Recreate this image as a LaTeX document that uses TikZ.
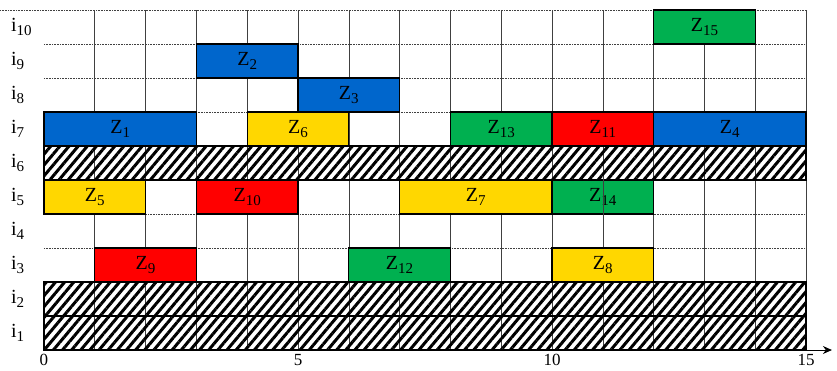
\documentclass[tikz,border=0pt]{standalone}
\usepackage{fontspec}
\setmainfont{Liberation Serif}
\usetikzlibrary{patterns.meta,arrows.meta}
\definecolor{zblue}{HTML}{0066CC}
\definecolor{zyellow}{HTML}{FFD700}
\definecolor{zred}{HTML}{FF0000}
\definecolor{zgreen}{HTML}{00B050}
\newcommand\zl[1]{Z\raisebox{-0.4ex}{\fontsize{15}{15}\selectfont #1}}
\newcommand\il[1]{i\raisebox{-0.4ex}{\fontsize{15}{15}\selectfont #1}}
\newcommand\zbox[6]{\node[zbar, fill=#5, minimum width={(#3-#2)*50.8pt}] (#1) at ({(#2+#3)/2},{#4-0.5}) {#6};}
\begin{document}
\begin{tikzpicture}[x=50.8pt,y=34pt,
  gridv/.style={draw=black!75, line width=0.6pt},
  gridh/.style={draw=black!75, line width=0.6pt, densely dotted},
  zbar/.style={draw=black, line width=1.3pt, minimum height=34pt, inner sep=0pt, font=\fontsize{20}{20}\selectfont},
  hatch/.style={draw=black, line width=1.3pt, minimum height=34pt, minimum width=762pt, inner sep=0pt,
    pattern={Lines[angle=50, distance=7pt, line width=3pt]}},
  lab/.style={font=\fontsize{20}{20}\selectfont, anchor=west, inner sep=0pt},
  tick/.style={font=\fontsize{17}{17}\selectfont, inner sep=0pt, anchor=base}]
\useasboundingbox (-0.866,-0.588) rectangle (15.61,10.294);
% grid
\foreach \x in {1,...,15} \draw[gridv] (\x,0) -- (\x,10);
\foreach \y in {1,...,9} \draw[gridh] (0,\y) -- (15,\y);
\draw[gridh] (-0.866,10) -- (15,10);
% hatched rows
\node[hatch] (h6) at (7.5,5.5) {};
\node[hatch] (h2) at (7.5,1.5) {};
\node[hatch] (h1) at (7.5,0.5) {};
% bars
\zbox{z15}{12}{14}{10}{zgreen}{\zl{15}}
\zbox{z2}{3}{5}{9}{zblue}{\zl{2}}
\zbox{z3}{5}{7}{8}{zblue}{\zl{3}}
\zbox{z1}{0}{3}{7}{zblue}{\zl{1}}
\zbox{z6}{4}{6}{7}{zyellow}{\zl{6}}
\zbox{z13}{8}{10}{7}{zgreen}{\zl{13}}
\zbox{z11}{10}{12}{7}{zred}{\zl{11}}
\zbox{z4}{12}{15}{7}{zblue}{\zl{4}}
\zbox{z5}{0}{2}{5}{zyellow}{\zl{5}}
\zbox{z10}{3}{5}{5}{zred}{\zl{10}}
\zbox{z7}{7}{10}{5}{zyellow}{\zl{7}}
\zbox{z14}{10}{12}{5}{zgreen}{\zl{14}}
\draw[gridv] (z14.north) -- (z14.south);
\zbox{z9}{1}{3}{3}{zred}{\zl{9}}
\zbox{z12}{6}{8}{3}{zgreen}{\zl{12}}
\zbox{z8}{10}{12}{3}{zyellow}{\zl{8}}
% row labels
\foreach \k in {1,...,10} \node[lab] (l\k) at (-0.65,\k-0.5) {\il{\k}};
% axis
\coordinate (o) at (0,0);
\coordinate (xend) at (15.51,0);
\draw[line width=1pt, -{Stealth[length=9pt,width=8pt]}] (o) -- (xend);
\foreach \t in {0,5,10,15} \node[tick] (t\t) at (\t,-0.47) {\t};
\end{tikzpicture}
\end{document}
